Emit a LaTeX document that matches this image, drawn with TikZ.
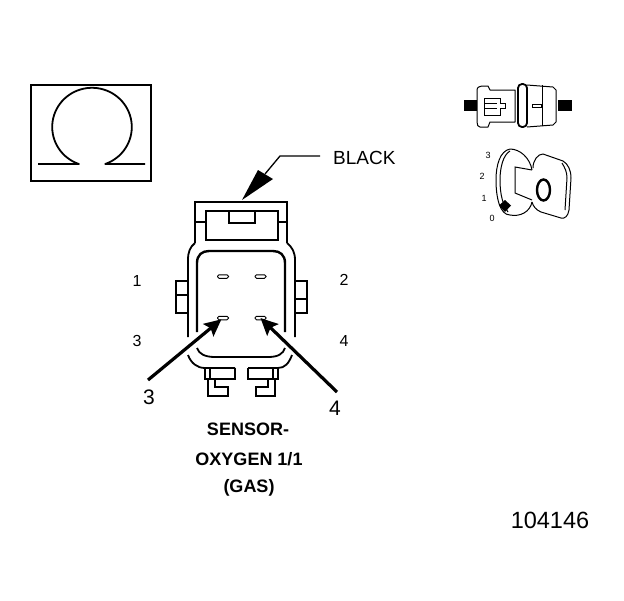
\documentclass[tikz,border=0pt]{standalone}
\usepackage{fontspec}
\setmainfont{Liberation Sans}
\usetikzlibrary{arrows.meta}
\tikzset{
  heavy/.style={line width=2.4pt,black},
  mid/.style={line width=1.8pt,black},
  thin1/.style={line width=1pt,black},
  pin/.style={draw=black,line width=1pt,rounded corners=1.5pt,minimum width=11pt,minimum height=3.5pt,inner sep=0pt,fill=white},
  lbl/.style={font=\fontsize{16}{18}\selectfont,inner sep=0pt},
  biglbl/.style={font=\fontsize{21}{23}\selectfont,inner sep=0pt},
  boldlbl/.style={font=\fontsize{18}{20}\selectfont\bfseries,inner sep=0pt},
  tiny1/.style={font=\fontsize{9}{10}\selectfont,inner sep=0pt},
  bigarrow/.style={line width=3.2pt,-{Stealth[length=17pt,width=16pt,inset=3pt]}}
}
\begin{document}
\begin{tikzpicture}[x=1pt,y=-1pt]
\useasboundingbox (0,0) rectangle (624,600);
% Omega box
\draw[heavy,line width=2.6pt] (31,85) rectangle (151,181);
\draw[mid,line join=round] (38,164) -- (79,164)
  -- plot[domain=-19.4:-340.6,samples=70,smooth] ({92+39.8*sin(\x)},{127+39.2*cos(\x)})
  -- (145,164);
% Connector: top housing
\draw[mid] (195,243) -- (195,202) -- (287,202) -- (287,243);
\draw[mid] (206,211) rectangle (278,240);
\draw[mid] (229,211) -- (229,223) -- (255,223) -- (255,211);
\draw[mid] (195,222) -- (206,222) (278,222) -- (287,222);
% Connector: body outer
\draw[mid] (195,243) .. controls (190,247) and (188,252) .. (188,260) -- (188,337);
\draw[mid] (287,243) .. controls (292,247) and (295,252) .. (295,260) -- (295,337);
\draw[mid] (188,281) -- (176,281) -- (176,313) -- (188,313);
\draw[mid] (176,295) -- (188,295);
\draw[mid] (295,281) -- (307,281) -- (307,313) -- (295,313);
\draw[mid] (295,299) -- (307,299);
% Connector: body inner
\draw[heavy] (197,332) -- (197,263) .. controls (197,255) and (202,251) .. (209,251)
  -- (273,251) .. controls (280,251) and (285,255) .. (285,263) -- (285,332);
\draw[mid] (197,348) .. controls (199,354) and (205,357) .. (215,357) -- (268,357)
  .. controls (278,357) and (283,354) .. (285,348);
\draw[mid] (188,355) .. controls (191,363) and (197,368) .. (205,368) -- (235,368);
\draw[mid] (292,355) .. controls (289,363) and (285,368) .. (278,368) -- (248,368);
% Connector: lower tabs
\draw[mid] (205,368) -- (205,379) -- (235,379) -- (235,368);
\draw[mid] (210,368) -- (210,379);
\draw[mid] (208,379) -- (208,396) -- (228,396) -- (228,387) -- (215,387) -- (215,379);
\draw[mid] (248,368) -- (248,379) -- (278,379) -- (278,368);
\draw[mid] (273,368) -- (273,379);
\draw[mid] (275,379) -- (275,396) -- (256,396) -- (256,387) -- (268,387) -- (268,379);
% Pins
\node[pin] (p1) at (223,276.5) {};
\node[pin] (p2) at (260.5,276.5) {};
\node[pin] (p3) at (223,318) {};
\node[pin] (p4) at (260.5,318) {};
% Labels
\node[lbl] (n1) at (137,281) {1};
\node[lbl] (n2) at (344,280) {2};
\node[lbl] (n3) at (137,341) {3};
\node[lbl] (n4) at (344,341) {4};
\node[biglbl] (a3) at (149,397) {3};
\node[biglbl] (a4) at (335,408) {4};
\coordinate (t3) at (148,380);
\coordinate (t4) at (337,392);
\draw[bigarrow,shorten >=2pt] (t3) -- (p3.center);
\draw[bigarrow,shorten >=0pt] (t4) -- (p4.center);
% Black leader
\node[font=\fontsize{19}{21}\selectfont,inner sep=0pt,anchor=west] (black) at (333,158) {BLACK};
\coordinate (bend) at (280,156);
\coordinate (hd) at (242,200);
\draw[line width=1.3pt] (320,156) -- (bend) -- (265,174);
\fill[black] (hd) -- (258,170) -- (273,179) -- cycle;
% Caption
\node[boldlbl] (c1) at (248,429) {SENSOR-};
\node[boldlbl] (c2) at (249,459) {OXYGEN 1/1};
\node[boldlbl] (c3) at (249,488) {(GAS)};
\node[font=\fontsize{23.5}{25}\selectfont,inner sep=0pt] (num) at (550,520) {104146};
% Plug icon
\fill[black] (464,100) rectangle (477,111);
\fill[black] (558,100) rectangle (572,111);
\draw[thin1,line join=round] (477,90) .. controls (477,87) and (480,86) .. (484,86) -- (488,86) -- (490,90) -- (515,90) -- (515,122) -- (490,122)
  -- (488,127) -- (480,127) .. controls (478,127) and (477,125) .. (477,122) -- cycle;
\draw[thin1] (484,115) -- (484,98) -- (500,98) -- (500,103) -- (505,103) -- (505,108) -- (500,108) -- (500,115) -- cycle;
\draw[thin1] (484,103) -- (497,103) (484,108) -- (497,108);
\draw[mid,rounded corners=4pt] (518,84) rectangle (527,127);
\draw[thin1] (527,85) -- (553,87) -- (556,90) -- (556,122) -- (553,125) -- (527,127);
\draw[thin1] (542,85) -- (542,126);
\draw[thin1] (532,104) rectangle (541,107);
% Key icon
\node[tiny1] (k3) at (488,155) {3};
\node[tiny1] (k2) at (482,176) {2};
\node[tiny1] (k1) at (484,198) {1};
\node[tiny1] (k0) at (492,218) {0};
\draw[thin1,line join=round] (532,170) .. controls (530,158) and (520,149) .. (510,149)
  .. controls (500,151) and (496,165) .. (496,180) .. controls (496,198) and (500,215) .. (510,215)
  .. controls (520,217) and (530,212) .. (532,202);
\draw[thin1] (510,151) .. controls (503,155) and (500,168) .. (500,180) .. controls (500,195) and (503,205) .. (508,212);
\draw[thin1] (532,170) -- (515,167) -- (515,193) -- (532,200);
\draw[thin1,line join=round] (533,168) .. controls (533,160) and (538,154) .. (543,154) -- (563,161)
  .. controls (568,164) and (571,170) .. (571,178) -- (569,210) .. controls (568,216) and (565,219) .. (561,218)
  -- (541,212) .. controls (536,210) and (533,206) .. (532,202);
\draw[thin1] (562,163) .. controls (565,168) and (567,172) .. (567,178) -- (565,210);
\draw[line width=2.4pt] (543.5,190) ellipse [x radius=6.5pt,y radius=10.5pt];
\fill[black] (505,200) -- (511,205.5) -- (505,212) -- (499,205.5) -- cycle;
\end{tikzpicture}
\end{document}
